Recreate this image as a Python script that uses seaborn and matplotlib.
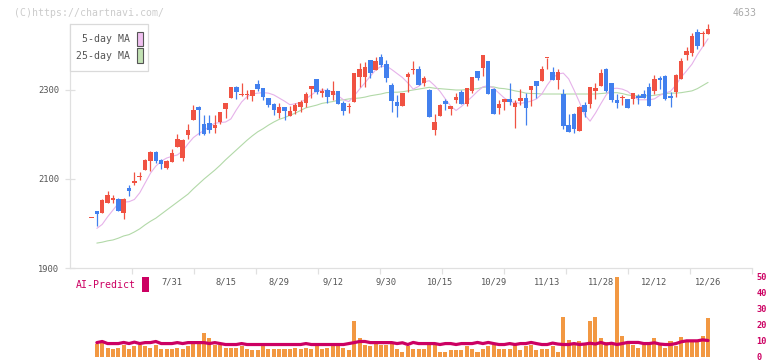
import numpy as np
import matplotlib
matplotlib.use("Agg")
import matplotlib.pyplot as plt
import seaborn as sns
from matplotlib.patches import Rectangle

nan = np.nan
# ---------------- data ----------------
opens = [2012, 2027, 2024, 2047, 2053, 2056, 2024, 2080, 2092, 2104, 2120, 2141, 2161, 2143, 2125, 2138,
         2172, 2147, 2199, 2233, 2262, 2224, 2226, 2215, 2228, 2257, 2283, 2307, 2289, 2288, 2287, 2313,
         2304, 2282, 2268, 2249, 2262, 2242, 2253, 2262, 2271, 2302, 2325, 2294, 2300, 2289, 2298, 2271,
         2262, 2272, 2330, 2330, 2367, 2346, 2375, 2358, 2311, 2274, 2264, 2330, 2344, 2347, 2316, 2300,
         2210, 2242, 2275, 2257, 2277, 2296, 2268, 2298, 2343, 2350, 2365, 2302, 2260, 2273, 2280, 2262,
         2275, 2282, 2300, 2320, 2320, 2371, 2341, 2322, 2291, 2221, 2246, 2208, 2266, 2268, 2298, 2309,
         2347, 2316, 2278, 2281, 2280, 2280, 2284, 2291, 2307, 2298, 2327, 2332, 2287, 2296, 2325, 2379,
         2383, 2430, 2425, 2426]
highs = [2012, 2027, 2055, 2073, 2063, 2058, 2058, 2086, 2116, 2116, 2146, 2162, 2164, 2144, 2143, 2167,
         2201, 2190, 2223, 2267, 2264, 2244, 2244, 2244, 2251, 2271, 2307, 2309, 2316, 2300, 2300, 2322,
         2304, 2282, 2271, 2271, 2262, 2264, 2271, 2277, 2296, 2309, 2325, 2304, 2304, 2320, 2298, 2276,
         2271, 2339, 2360, 2364, 2367, 2375, 2380, 2367, 2315, 2289, 2293, 2341, 2365, 2354, 2331, 2302,
         2246, 2268, 2280, 2264, 2294, 2300, 2305, 2329, 2343, 2379, 2365, 2305, 2277, 2280, 2316, 2277,
         2302, 2294, 2309, 2320, 2354, 2371, 2352, 2347, 2302, 2246, 2248, 2264, 2274, 2307, 2316, 2347,
         2349, 2316, 2291, 2289, 2280, 2293, 2291, 2300, 2316, 2334, 2332, 2334, 2296, 2336, 2372, 2397,
         2428, 2437, 2433, 2448]
lows = [2012, 1994, 2024, 2045, 2045, 2029, 2009, 2062, 2086, 2098, 2120, 2118, 2137, 2122, 2123, 2138,
        2172, 2141, 2190, 2233, 2199, 2199, 2203, 2203, 2224, 2236, 2283, 2280, 2286, 2280, 2276, 2298,
        2277, 2262, 2244, 2238, 2233, 2242, 2246, 2251, 2262, 2281, 2291, 2284, 2271, 2277, 2268, 2244,
        2249, 2272, 2307, 2307, 2326, 2345, 2352, 2319, 2251, 2240, 2264, 2296, 2335, 2311, 2309, 2240,
        2199, 2242, 2255, 2244, 2270, 2268, 2265, 2294, 2322, 2331, 2291, 2246, 2246, 2255, 2266, 2215,
        2266, 2221, 2264, 2282, 2320, 2347, 2322, 2302, 2212, 2206, 2204, 2208, 2240, 2260, 2280, 2309,
        2296, 2273, 2260, 2266, 2260, 2269, 2269, 2282, 2264, 2291, 2302, 2278, 2262, 2284, 2325, 2367,
        2376, 2392, 2399, 2426]
closes = [2012, 2022, 2053, 2063, 2057, 2029, 2055, 2072, 2096, 2107, 2143, 2161, 2141, 2134, 2141, 2158,
          2190, 2188, 2210, 2255, 2254, 2201, 2210, 2221, 2251, 2271, 2307, 2296, 2290, 2289, 2300, 2302,
          2285, 2267, 2254, 2262, 2253, 2253, 2266, 2272, 2291, 2309, 2296, 2298, 2285, 2298, 2269, 2253,
          2263, 2339, 2347, 2352, 2339, 2365, 2356, 2326, 2276, 2264, 2293, 2337, 2345, 2311, 2328, 2240,
          2229, 2266, 2269, 2264, 2284, 2269, 2305, 2329, 2326, 2379, 2291, 2246, 2269, 2280, 2273, 2271,
          2282, 2260, 2309, 2309, 2347, 2371, 2322, 2341, 2218, 2206, 2212, 2261, 2251, 2307, 2305, 2338,
          2298, 2278, 2271, 2282, 2260, 2293, 2283, 2282, 2264, 2325, 2323, 2280, 2282, 2334, 2365, 2388,
          2421, 2399, 2426, 2437]
ma5 = [nan, 1989, 1998, 2015, 2030, 2045, 2048, 2049, 2054, 2069, 2091, 2113, 2129, 2140, 2147, 2151,
       2154, 2163, 2179, 2193, 2202, 2209, 2218, 2225, 2227, 2228, 2235, 2255, 2273, 2285, 2291, 2293,
       2294, 2293, 2289, 2282, 2275, 2267, 2269, 2272, 2280, 2289, 2297, 2300, 2299, 2295, 2287, 2278,
       2274, 2287, 2302, 2316, 2331, 2345, 2353, 2354, 2346, 2337, 2328, 2316, 2302, 2308, 2318, 2321,
       2310, 2297, 2280, 2264, 2254, 2263, 2274, 2285, 2297, 2307, 2310, 2304, 2293, 2282, 2274, 2272,
       2270, 2272, 2275, 2280, 2291, 2311, 2327, 2336, 2338, 2325, 2300, 2273, 2244, 2230, 2248, 2269,
       2289, 2303, 2304, 2302, 2297, 2287, 2278, 2278, 2278, 2280, 2288, 2293, 2297, 2311, 2329, 2343,
       2358, 2379, 2397, 2415]
ma25 = [nan, 1956, 1958, 1961, 1963, 1967, 1972, 1975, 1981, 1988, 1997, 2005, 2012, 2021, 2030, 2039,
        2048, 2057, 2066, 2078, 2089, 2100, 2110, 2120, 2131, 2143, 2154, 2165, 2176, 2187, 2197, 2206,
        2213, 2221, 2228, 2234, 2238, 2243, 2248, 2254, 2260, 2263, 2266, 2270, 2272, 2274, 2277, 2278,
        2280, 2281, 2282, 2284, 2287, 2289, 2291, 2294, 2295, 2295, 2296, 2298, 2300, 2302, 2304, 2306,
        2304, 2303, 2302, 2301, 2300, 2300, 2301, 2302, 2303, 2306, 2307, 2307, 2304, 2303, 2301, 2298,
        2296, 2293, 2292, 2292, 2291, 2291, 2291, 2291, 2291, 2291, 2291, 2291, 2291, 2291, 2291, 2292,
        2293, 2294, 2294, 2292, 2289, 2287, 2287, 2287, 2287, 2288, 2290, 2292, 2293, 2293, 2294, 2296,
        2298, 2303, 2310, 2317]
volume = [nan, 8.4, 9.1, 5.9, 5.3, 5.9, 7.2, 4.7, 6.6, 7.8, 6.6, 5.9, 7.8, 4.7, 4.7, 4.7,
          5.9, 5.3, 6.6, 8.4, 10.3, 14.7, 11.6, 7.2, 7.2, 5.9, 5.9, 5.9, 6.6, 4.7, 4.1, 4.1,
          6.6, 4.7, 4.7, 5.3, 4.7, 4.7, 5.9, 5.3, 5.9, 5.3, 6.6, 5.3, 5.9, 7.2, 7.2, 5.9,
          4.1, 22.8, 11.6, 7.8, 6.6, 8.4, 7.2, 7.2, 8.4, 5.3, 3.4, 6.6, 4.7, 4.7, 4.7, 7.8,
          7.8, 3.4, 3.4, 4.1, 4.1, 4.1, 6.6, 4.7, 3.4, 5.3, 6.6, 7.8, 5.3, 5.3, 5.3, 7.2,
          4.1, 6.6, 7.8, 4.1, 4.7, 4.7, 6.6, 3.4, 24.7, 10.9, 7.8, 9.7, 7.8, 22.2, 25.3, 11.6,
          9.1, 7.8, 49.7, 13.4, 8.4, 7.8, 5.9, 7.8, 7.8, 11.6, 7.2, 5.9, 10.3, 6.6, 12.2, 9.7,
          10.3, 9.7, 13.4, 24.1]
ai_predict = [nan, 9.0, 9.7, 8.4, 8.4, 8.4, 9.1, 8.4, 9.3, 8.4, 9.0, 9.0, 9.7, 8.4, 8.4, 8.4,
              9.0, 8.4, 9.0, 9.0, 9.0, 9.0, 8.4, 9.0, 8.4, 7.8, 7.8, 7.8, 8.4, 7.8, 7.8, 7.8,
              7.8, 7.8, 7.8, 7.8, 7.8, 7.8, 7.8, 7.8, 8.4, 7.8, 7.8, 7.8, 7.8, 7.8, 7.8, 7.8,
              8.4, 9.0, 9.7, 9.7, 9.0, 9.0, 9.0, 9.0, 9.0, 8.4, 8.9, 7.8, 9.1, 8.4, 8.4, 8.4,
              8.4, 7.8, 8.4, 8.4, 7.8, 8.4, 8.4, 8.4, 9.1, 8.4, 9.1, 8.4, 7.8, 7.8, 8.4, 7.8,
              8.4, 8.4, 9.1, 8.4, 7.8, 7.8, 8.7, 8.1, 7.8, 7.8, 8.4, 7.8, 8.1, 8.6, 8.1, 9.1,
              8.1, 8.6, 7.8, 8.4, 9.1, 9.1, 9.1, 8.4, 8.4, 8.9, 8.1, 7.8, 7.8, 8.4, 9.5, 10.1,
              10.1, 10.1, 10.7, 10.3]
date_labels = ["7/31", "8/15", "8/29", "9/12", "9/30", "10/15", "10/29", "11/13", "11/28", "12/12", "12/26"]
date_label_idx = [15, 25, 35, 45, 55, 65, 75, 85, 95, 105, 115]
price_ticks = [1900, 2100, 2300]
volume_ticks = [0, 10, 20, 30, 40, 50]

n = len(closes)
for arr in (opens, highs, lows, ma5, ma25, volume, ai_predict):
    assert len(arr) == n, len(arr)

# ---------------- style ----------------
RED = "#f05242"
BLUE = "#4280ee"
PINK = "#e6b2ea"
GREEN = "#b2d9a8"
ORANGE = "#f29842"
MAGENTA = "#cc0062"
AXIS = "#e0e0e0"
TXT = "#555555"

sns.set_theme(style="white")
plt.rcParams['font.family'] = ['DejaVu Sans Mono', 'DejaVu Sans']

W, H = 772, 361
fig = plt.figure(figsize=(W / 100, H / 100), dpi=100)
fig.patch.set_facecolor("white")


def fx(px):
    return px / W


def fy(py):
    return 1 - py / H


ax = fig.add_axes([fx(70), fy(268), fx(752) - fx(70), fy(24) - fy(268)])
axv = fig.add_axes([fx(70), fy(357), fx(752) - fx(70), fy(277) - fy(357)])

idx = np.arange(n)
o = np.array(opens, float)
h = np.array(highs, float)
l = np.array(lows, float)
c = np.array(closes, float)
colors = np.where(c >= o, RED, BLUE)

XL = (-4.01, 123.2)

# moving averages
sns.lineplot(x=idx, y=np.array(ma25, float), ax=ax, color=GREEN, lw=0.8, zorder=2)
sns.lineplot(x=idx, y=np.array(ma5, float), ax=ax, color=PINK, lw=0.8, zorder=2)

# candles
ax.vlines(idx, l, h, colors=colors, lw=0.9, zorder=3)
body = np.maximum(np.abs(c - o), 2.4)
ax.bar(idx, body, bottom=np.minimum(o, c), width=0.84, color=colors, zorder=4, linewidth=0)

ax.set_xlim(*XL)
ax.set_ylim(1900, 1900 + 244 * 200 / 89)
ax.set_xlabel("")
ax.set_ylabel("")
for s in ("top", "right"):
    ax.spines[s].set_visible(False)
for s in ("left", "bottom"):
    ax.spines[s].set_color(AXIS)
    ax.spines[s].set_linewidth(0.9)

ax.set_yticks(price_ticks)
ax.set_yticklabels([str(t) for t in price_ticks])
ax.tick_params(axis="y", which="major", direction="inout", length=7, width=0.9, color=AXIS,
               pad=4.2, labelsize=6.3, labelcolor=TXT, left=True)
ax.set_xticks(date_label_idx)
ax.set_xticklabels(date_labels)
ax.tick_params(axis="x", which="major", length=0, pad=6.5, labelsize=6.3, labelcolor=TXT, bottom=True)
ax.set_xticks(np.linspace(XL[0], XL[1], 12)[1:], minor=True)
ax.tick_params(axis="x", which="minor", direction="out", length=4.5, width=0.9, color=AXIS, bottom=True)
ax.grid(False)

# volume + AI predict
axv.bar(idx, np.array(volume, float), width=0.75, color=ORANGE, linewidth=0, zorder=2)
sns.lineplot(x=idx, y=np.array(ai_predict, float), ax=axv, color=MAGENTA, lw=2.3, zorder=3)
axv.set_xlim(*XL)
axv.set_ylim(0, 50)
axv.set_xlabel("")
axv.set_ylabel("")
for s in axv.spines.values():
    s.set_visible(False)
axv.set_xticks([])
axv.yaxis.tick_right()
axv.set_yticks(volume_ticks)
axv.set_yticklabels([str(t) for t in volume_ticks])
axv.tick_params(axis="y", length=0, pad=3, labelsize=6.2, labelcolor=MAGENTA)
for t in axv.get_yticklabels():
    t.set_fontweight("bold")
axv.grid(False)
axv.patch.set_alpha(0)

# legend box
def frect(x0, y0, x1, y1, **kw):
    r = Rectangle((fx(x0), fy(y1)), fx(x1) - fx(x0), fy(y0) - fy(y1), transform=fig.transFigure, **kw)
    fig.add_artist(r)
    return r

frect(70, 24, 148, 71, facecolor="white", edgecolor="#dadada", lw=0.9, zorder=10)
frect(136.5, 32, 142.5, 46, facecolor="#f0c0f0", edgecolor="#555555", lw=0.8, zorder=11)
frect(136.5, 48.5, 142.5, 62.5, facecolor="#c2e2b4", edgecolor="#555555", lw=0.8, zorder=11)
fig.text(fx(130), fy(39.5), "5-day MA", ha="right", va="center", fontsize=7.1, color=TXT, zorder=12)
fig.text(fx(130), fy(56), "25-day MA", ha="right", va="center", fontsize=7.1, color=TXT, zorder=12)

# header texts
fig.text(fx(14), fy(12.5), "(C)https://chartnavi.com/", ha="left", va="center", fontsize=7.1, color="#cccccc")
fig.text(fx(757), fy(12.5), "4633", ha="right", va="center", fontsize=7.1, color="#aaaaaa")

# AI-Predict label
fig.text(fx(76), fy(285.5), "AI-Predict", ha="left", va="center", fontsize=7.1, color=MAGENTA)
frect(142, 277, 149, 292, facecolor=MAGENTA, edgecolor="none", zorder=10)

fig.savefig("out.png", dpi=100, facecolor="white")
